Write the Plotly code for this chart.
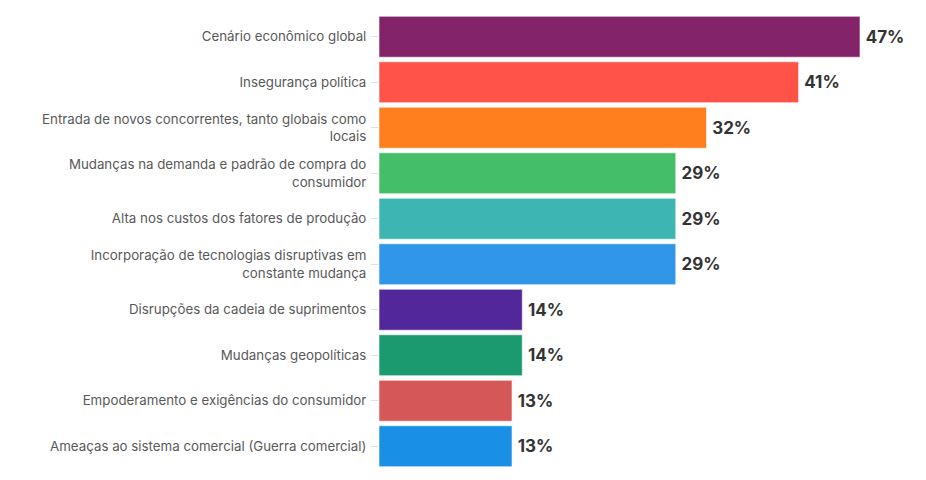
import plotly.graph_objects as go

categories = [
    "Cenário econômico global",
    "Insegurança política",
    "Entrada de novos concorrentes, tanto globais como<br>locais",
    "Mudanças na demanda e padrão de compra do<br>consumidor",
    "Alta nos custos dos fatores de produção",
    "Incorporação de tecnologias disruptivas em<br>constante mudança",
    "Disrupções da cadeia de suprimentos",
    "Mudanças geopolíticas",
    "Empoderamento e exigências do consumidor",
    "Ameaças ao sistema comercial (Guerra comercial)",
]
values = [47, 41, 32, 29, 29, 29, 14, 14, 13, 13]
colors = ["#83246A", "#FF534A", "#FF7E1E", "#44BF67", "#3DB5B2",
          "#3096E8", "#52279A", "#1A9A6E", "#D65757", "#1A8FE6"]
labels = [f"\u2009{v}%" for v in values]

fig = go.Figure(go.Bar(
    x=values, y=categories, orientation="h",
    marker=dict(color=colors, line=dict(color="rgba(255,255,255,0.6)", width=1)),
    text=labels, textposition="outside", cliponaxis=False,
    textfont=dict(family="Inter, DejaVu Sans", size=17, color="#333333", weight="bold"),
    hoverinfo="skip",
))
fig.update_layout(
    width=926, height=480,
    margin=dict(l=371, r=74, t=6, b=19),
    paper_bgcolor="white", plot_bgcolor="white",
    bargap=0.1, showlegend=False,
    font=dict(family="Inter, Noto Sans", size=13, color="#595959"),
)
fig.update_xaxes(range=[0, 47], visible=False)
fig.update_yaxes(autorange="reversed", showgrid=False, zeroline=False,
                 ticks="outside", ticklen=7, tickcolor="#e0e0e0",
                 tickfont=dict(size=13.3, color="#595959"), ticklabelstandoff=2)
fig.write_html("out.html")
